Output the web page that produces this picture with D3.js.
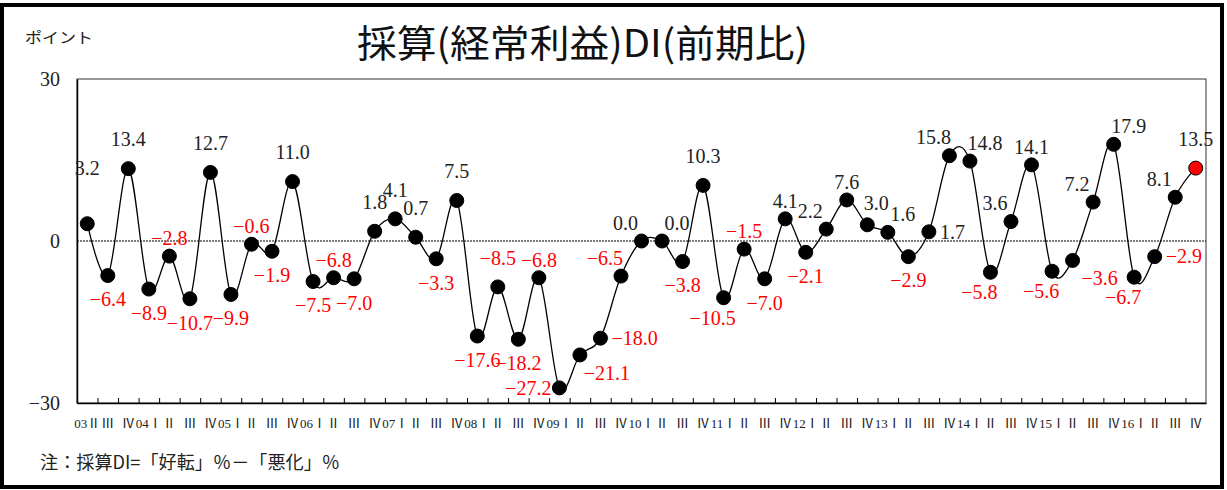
<!DOCTYPE html>
<html>
<head>
<meta charset="utf-8">
<script src="https://cdn.jsdelivr.net/npm/d3@7"></script>
<style>
  body { margin: 0; background: #fff; }
  svg { display: block; }
</style>
</head>
<body>
<svg id="chart" width="1227" height="490"></svg>
<script>
// 採算DI (前期比), 2003 II - 2016 IV
var quarterLabels = [
  "03Ⅱ", "Ⅲ", "Ⅳ",
  "04Ⅰ", "Ⅱ", "Ⅲ", "Ⅳ",
  "05Ⅰ", "Ⅱ", "Ⅲ", "Ⅳ",
  "06Ⅰ", "Ⅱ", "Ⅲ", "Ⅳ",
  "07Ⅰ", "Ⅱ", "Ⅲ", "Ⅳ",
  "08Ⅰ", "Ⅱ", "Ⅲ", "Ⅳ",
  "09Ⅰ", "Ⅱ", "Ⅲ", "Ⅳ",
  "10Ⅰ", "Ⅱ", "Ⅲ", "Ⅳ",
  "11Ⅰ", "Ⅱ", "Ⅲ", "Ⅳ",
  "12Ⅰ", "Ⅱ", "Ⅲ", "Ⅳ",
  "13Ⅰ", "Ⅱ", "Ⅲ", "Ⅳ",
  "14Ⅰ", "Ⅱ", "Ⅲ", "Ⅳ",
  "15Ⅰ", "Ⅱ", "Ⅲ", "Ⅳ",
  "16Ⅰ", "Ⅱ", "Ⅲ", "Ⅳ"
];

var diValues = [
  3.2, -6.4, 13.4,
  -8.9, -2.8, -10.7, 12.7,
  -9.9, -0.6, -1.9, 11.0,
  -7.5, -6.8, -7.0, 1.8,
  4.1, 0.7, -3.3, 7.5,
  -17.6, -8.5, -18.2, -6.8,
  -27.2, -21.1, -18.0, -6.5,
  0.0, 0.0, -3.8, 10.3,
  -10.5, -1.5, -7.0, 4.1,
  -2.1, 2.2, 7.6, 3.0,
  1.6, -2.9, 1.7, 15.8,
  14.8, -5.8, 3.6, 14.1,
  -5.6, -3.6, 7.2, 17.9,
  -6.7, -2.9, 8.1, 13.5
];

var yTicks = [-30, 0, 30];

// where each data label sits around its marker
var labelSpots = [
  "tt", "b", "t",
  "b", "ts", "b", "t",
  "b", "ts", "b", "t",
  "b", "ts", "b", "t",
  "t", "t", "b", "t",
  "b", "t", "b", "ts",
  "l", "br", "r", "tl",
  "tl", "tr", "b", "t",
  "bl", "ts", "b", "ts",
  "b", "tl", "ts", "tn",
  "tr", "b", "r", "tl",
  "tr", "bl", "tl", "ts",
  "bl", "br", "tl", "tr",
  "bl", "r", "tl", "t"
];

var svg = d3.select("#chart");
var plot = { left: 77, right: 1206, top: 79, bottom: 403 };

var serif = "'Liberation Serif', 'Noto Sans CJK JP', serif";
var gothic = "'Noto Sans CJK JP', sans-serif";

// outer frame
svg.append("rect")
  .attr("x", 2).attr("y", 5)
  .attr("width", 1220).attr("height", 482)
  .attr("fill", "#fff")
  .attr("stroke", "#000")
  .attr("stroke-width", 4);

var x = d3.scaleBand()
  .domain(d3.range(diValues.length))
  .range([plot.left, plot.right]);

var xEdge = d3.scaleLinear()
  .domain([0, diValues.length])
  .range([plot.left, plot.right]);

var y = d3.scaleLinear()
  .domain([-30, 30])
  .range([plot.bottom, plot.top]);

// plot area border
svg.append("rect")
  .attr("x", plot.left).attr("y", plot.top)
  .attr("width", plot.right - plot.left)
  .attr("height", plot.bottom - plot.top)
  .attr("fill", "none")
  .attr("stroke", "#333")
  .attr("stroke-width", 1);

// zero line
svg.append("line")
  .attr("x1", plot.left).attr("x2", plot.right)
  .attr("y1", y(0)).attr("y2", y(0))
  .attr("stroke", "#000")
  .attr("stroke-width", 1)
  .attr("stroke-dasharray", "2,1");

// y axis
var yAxis = svg.append("g")
  .attr("transform", "translate(" + plot.left + ",0)")
  .call(d3.axisLeft(y).tickValues(yTicks).tickSize(0).tickPadding(17)
    .tickFormat(function (d) { return d < 0 ? "−" + Math.abs(d) : d; }));
yAxis.select(".domain").attr("stroke", "#000").attr("stroke-width", 1.5);
yAxis.selectAll("text")
  .attr("font-family", serif)
  .attr("font-size", 20)
  .attr("fill", "#222");

// x axis: boundary ticks
var xTickAxis = svg.append("g")
  .attr("transform", "translate(0," + plot.bottom + ")")
  .call(d3.axisBottom(xEdge).tickValues(d3.range(1, diValues.length))
    .tickSize(-5).tickSizeOuter(0).tickFormat(""));
xTickAxis.select(".domain").attr("stroke", "#000").attr("stroke-width", 1.5);
xTickAxis.selectAll(".tick line").attr("stroke", "#000");

// x axis: quarter labels
var xLabelAxis = svg.append("g")
  .attr("transform", "translate(0," + plot.bottom + ")")
  .call(d3.axisBottom(x).tickSize(0).tickPadding(16)
    .tickFormat(function (i) { return quarterLabels[i]; }));
xLabelAxis.select(".domain").remove();
xLabelAxis.selectAll("text")
  .attr("font-family", serif)
  .attr("font-size", 13)
  .attr("fill", "#222");

// the smoothed line
var line = d3.line()
  .x(function (d, i) { return x(i) + x.bandwidth() / 2; })
  .y(function (d) { return y(d); })
  .curve(d3.curveCardinal.tension(0));

svg.append("path")
  .datum(diValues)
  .attr("d", line)
  .attr("fill", "none")
  .attr("stroke", "#000")
  .attr("stroke-width", 1.3);

var last = diValues.length - 1;
svg.append("g").selectAll("circle")
  .data(diValues)
  .join("circle")
  .attr("cx", function (d, i) { return x(i) + x.bandwidth() / 2; })
  .attr("cy", function (d) { return y(d); })
  .attr("r", 7)
  .attr("fill", function (d, i) { return i == last ? "#ff0000" : "#000"; })
  .attr("stroke", "#000")
  .attr("stroke-width", 1);

// data labels
var spotOffset = {
  t:  [0, -29, "middle"],
  ts: [0, -18, "middle"],
  tt: [0, -56, "middle"],
  b:  [0, 24, "middle"],
  tl: [-16, -18, "middle"],
  tr: [15, -18, "middle"],
  tn: [9, -22, "middle"],
  bl: [-11, 20, "middle"],
  br: [27, 18, "middle"],
  l:  [-8, 0, "end"],
  r:  [11, 0, "start"]
};

function fmt(v) {
  var s = Math.abs(v).toFixed(1);
  return v < 0 ? "−" + s : s;
}

svg.append("g").selectAll("text")
  .data(diValues)
  .join("text")
  .attr("x", function (d, i) { return x(i) + x.bandwidth() / 2 + spotOffset[labelSpots[i]][0]; })
  .attr("y", function (d, i) { return y(d) + spotOffset[labelSpots[i]][1]; })
  .attr("dy", "0.34em")
  .attr("text-anchor", function (d, i) { return spotOffset[labelSpots[i]][2]; })
  .attr("font-family", serif)
  .attr("font-size", 20)
  .attr("fill", function (d) { return d < 0 ? "#ff0000" : "#222"; })
  .text(fmt);

// title and notes
svg.append("text")
  .attr("x", 357).attr("y", 57)
  .attr("font-family", gothic)
  .attr("font-size", 38)
  .attr("textLength", 451)
  .attr("lengthAdjust", "spacingAndGlyphs")
  .attr("fill", "#111")
  .text("採算(経常利益)DI(前期比)");

svg.append("text")
  .attr("x", 25).attr("y", 43)
  .attr("font-family", gothic)
  .attr("font-size", 15)
  .attr("textLength", 68)
  .attr("lengthAdjust", "spacingAndGlyphs")
  .attr("fill", "#222")
  .text("ポイント");

svg.append("text")
  .attr("x", 40).attr("y", 469)
  .attr("font-family", gothic)
  .attr("font-size", 18)
  .attr("textLength", 300)
  .attr("lengthAdjust", "spacingAndGlyphs")
  .attr("fill", "#222")
  .text("注：採算DI=「好転」％－「悪化」％");
</script>
</body>
</html>
